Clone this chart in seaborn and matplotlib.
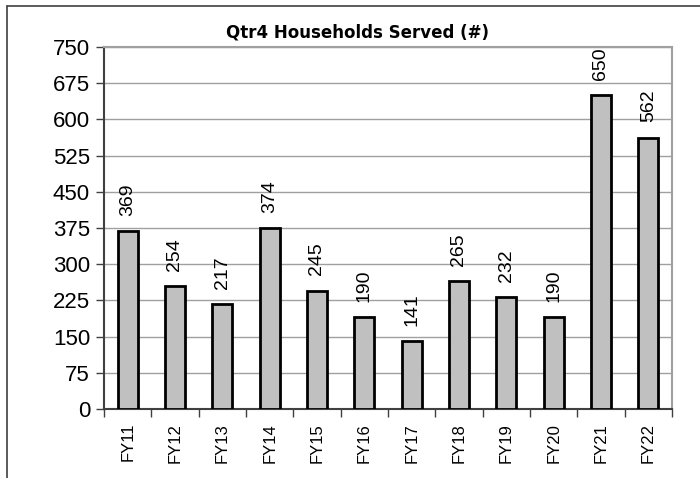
import matplotlib
matplotlib.use('Agg')
import matplotlib.pyplot as plt
from matplotlib.lines import Line2D
import seaborn as sns

years = ["FY11", "FY12", "FY13", "FY14", "FY15", "FY16", "FY17", "FY18", "FY19", "FY20", "FY21", "FY22"]
households = [369, 254, 217, 374, 245, 190, 141, 265, 232, 190, 650, 562]
y_ticks = [0, 75, 150, 225, 300, 375, 450, 525, 600, 675, 750]

sns.set_style('white')
plt.rcParams['font.family'] = ['Liberation Sans', 'DejaVu Sans']
plt.rcParams['text.color'] = 'black'
plt.rcParams['xtick.color'] = 'black'
plt.rcParams['ytick.color'] = 'black'

fig = plt.figure(figsize=(7, 4.78), dpi=100)
ax = fig.add_axes([104 / 700, 1 - 409 / 478, (672 - 104) / 700, (409 - 47) / 478])

sns.barplot(x=years, y=households, color='#C0C0C0', saturation=1, edgecolor='black',
            linewidth=2, width=0.42, ax=ax, zorder=3)

ax.set_xlim(-0.5, len(years) - 0.5)
ax.set_ylim(0, 750)
ax.set_yticks(y_ticks)
ax.set_yticklabels([str(v) for v in y_ticks], fontsize=16)
ax.tick_params(axis='y', length=6, width=1, color='#404040', pad=4, left=True)
ax.set_xticks(range(len(years)))
ax.set_xticklabels(years, rotation=90, fontsize=12)
ax.tick_params(axis='x', which='major', length=0, pad=10)
ax.set_xticks([i - 0.5 for i in range(len(years) + 1)], minor=True)
ax.tick_params(axis='x', which='minor', length=6, width=1, color='#404040', bottom=True)
ax.set_xlabel('')
ax.set_ylabel('')

ax.grid(axis='y', color='#A0A0A0', linewidth=1, zorder=0)
ax.set_axisbelow(True)
for side in ['top', 'right']:
    ax.spines[side].set_color('#A0A0A0')
    ax.spines[side].set_linewidth(1.5)
for side in ['left', 'bottom']:
    ax.spines[side].set_color('#404040')
    ax.spines[side].set_linewidth(1.5)

for i, v in enumerate(households):
    ax.annotate(str(v), (i, v), xytext=(0, 11), textcoords='offset points',
                rotation=90, ha='center', va='bottom', fontsize=14, color='black')

fig.text(357 / 700, 1 - 32 / 478, 'Qtr4 Households Served (#)', fontsize=12, fontweight='bold',
         family=['DejaVu Sans'], ha='center', va='center', color='black')

# outer chart frame (cut off at right and bottom)
fig.add_artist(Line2D([7 / 700, 7 / 700], [0, 1 - 6 / 478], color='#404040', lw=1.2))
fig.add_artist(Line2D([7 / 700, 1], [1 - 6 / 478, 1 - 6 / 478], color='#404040', lw=1.2))

fig.savefig('out.png', dpi=100)
